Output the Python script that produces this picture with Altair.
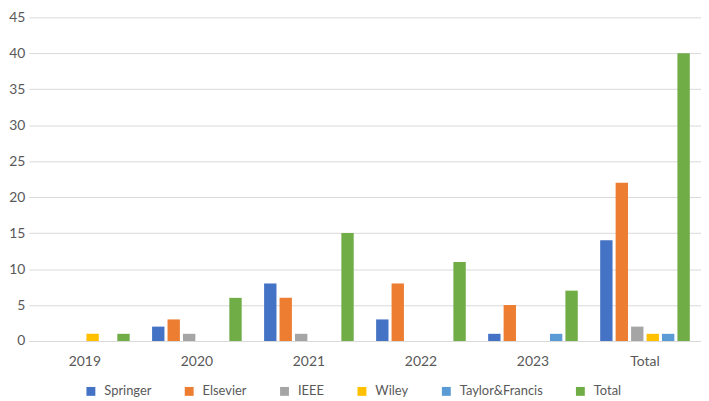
import altair as alt
import pandas as pd

categories = ["2019", "2020", "2021", "2022", "2023", "Total"]
series = ["Springer", "Elsevier", "IEEE", "Wiley", "Taylor&Francis", "Total"]
colors = ["#4472C4", "#ED7D31", "#A5A5A5", "#FFC000", "#5B9BD5", "#70AD47"]

springer = [0, 2, 8, 3, 1, 14]
elsevier = [0, 3, 6, 8, 5, 22]
ieee = [0, 1, 1, 0, 0, 2]
wiley = [1, 0, 0, 0, 0, 1]
taylor_francis = [0, 0, 0, 0, 1, 1]
total = [1, 6, 15, 11, 7, 40]

y_ticks = [0, 5, 10, 15, 20, 25, 30, 35, 40, 45]

values = [springer, elsevier, ieee, wiley, taylor_francis, total]
rows = []
for s, vals in zip(series, values):
    for c, v in zip(categories, vals):
        rows.append({"category": c, "series": s, "value": v})
df = pd.DataFrame(rows)

FONT = "Lato"
GREY = "#595959"

chart = alt.Chart(df).mark_bar().encode(
    x=alt.X("category:N", sort=categories, title=None,
            scale=alt.Scale(paddingInner=0.2, paddingOuter=0.1),
            axis=alt.Axis(labelAngle=0, ticks=False, domainColor="#D9D9D9",
                          labelFontSize=14, labelColor=GREY, labelFont=FONT,
                          labelPadding=14)),
    xOffset=alt.XOffset("series:N", sort=series,
                        scale=alt.Scale(paddingInner=0.2, paddingOuter=0)),
    y=alt.Y("value:Q", title=None,
            scale=alt.Scale(domain=[0, 45], nice=False),
            axis=alt.Axis(values=y_ticks, ticks=False, domain=False,
                          gridColor="#D9D9D9", labelFontSize=14, labelColor=GREY,
                          labelFont=FONT, labelPadding=4)),
    color=alt.Color("series:N",
                    scale=alt.Scale(domain=series, range=colors),
                    legend=alt.Legend(title=None, orient="none", direction="horizontal",
                                      legendX=56, legendY=370,
                                      symbolType="square", symbolSize=80,
                                      symbolStrokeWidth=0, columnPadding=31,
                                      labelFontSize=13, labelColor=GREY,
                                      labelFont=FONT, labelOffset=7)),
).properties(
    width=677,
    height=326,
    autosize=alt.AutoSizeParams(type="none"),
    padding={"left": 21, "top": 8, "right": 0, "bottom": 57},
).configure_view(stroke=None)

chart.save("out.html", embed_options={"renderer": "svg", "actions": False})
